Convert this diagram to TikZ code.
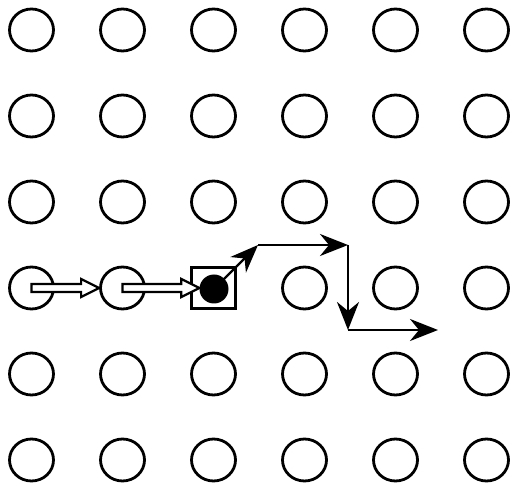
\documentclass[tikz,border=0pt]{standalone}
\usetikzlibrary{shapes.geometric,arrows.meta,calc}

\tikzset{
  site/.style={draw, ellipse, line width=2.8pt, minimum width=44pt, minimum height=42pt, inner sep=0pt},
  cellbox/.style={draw, rectangle, line width=2.8pt, minimum width=44pt, minimum height=40.5pt, inner sep=0pt},
  walker/.style={fill=black, circle, minimum size=29pt, inner sep=0pt},
  walk/.style={line width=2.4pt, -{Stealth[length=28pt,width=22pt,inset=9pt]}},
  hollow/.style={draw, line width=2.2pt, fill=white, line join=miter}
}

% open arrow from the centre of #1 to the point #2
\newcommand\hollowarrow[2]{%
  \path[hollow] let \p1=(#1), \p2=(#2) in
    (\x1,\y1+4pt) -- (\x2-18pt,\y1+4pt) -- (\x2-18pt,\y1+9pt) -- (\x2,\y1)
    -- (\x2-18pt,\y1-9pt) -- (\x2-18pt,\y1-4pt) -- (\x1,\y1-4pt) -- cycle;}

\begin{document}
\begin{tikzpicture}[x=1pt,y=-1pt]
\useasboundingbox (0,0) rectangle (512,486);

% lattice
\foreach \c in {0,...,5}{
  \foreach \r in {0,...,5}{
    \ifnum\numexpr\c*10+\r\relax=23 \else
      \node[site] (s\c\r) at (31.5+91*\c, 30+86*\r) {};
    \fi
  }
}

\node[cellbox] (s23) at (213.5,288) {};
\node[walker] (dot) at (214,289) {};

\hollowarrow{s03.center}{s13.west}
\hollowarrow{s13.center}{dot.west}

% path of the walker
\coordinate (t1) at (258,245);
\coordinate (t2) at (348,245);
\coordinate (t3) at (348,330);
\coordinate (t4) at (438,330);

\draw[walk] (dot.center) -- (t1);
\draw[walk] (t1) -- (t2);
\draw[walk] (t2) -- (t3);
\draw[walk] (t3) -- (t4);
\end{tikzpicture}
\end{document}
